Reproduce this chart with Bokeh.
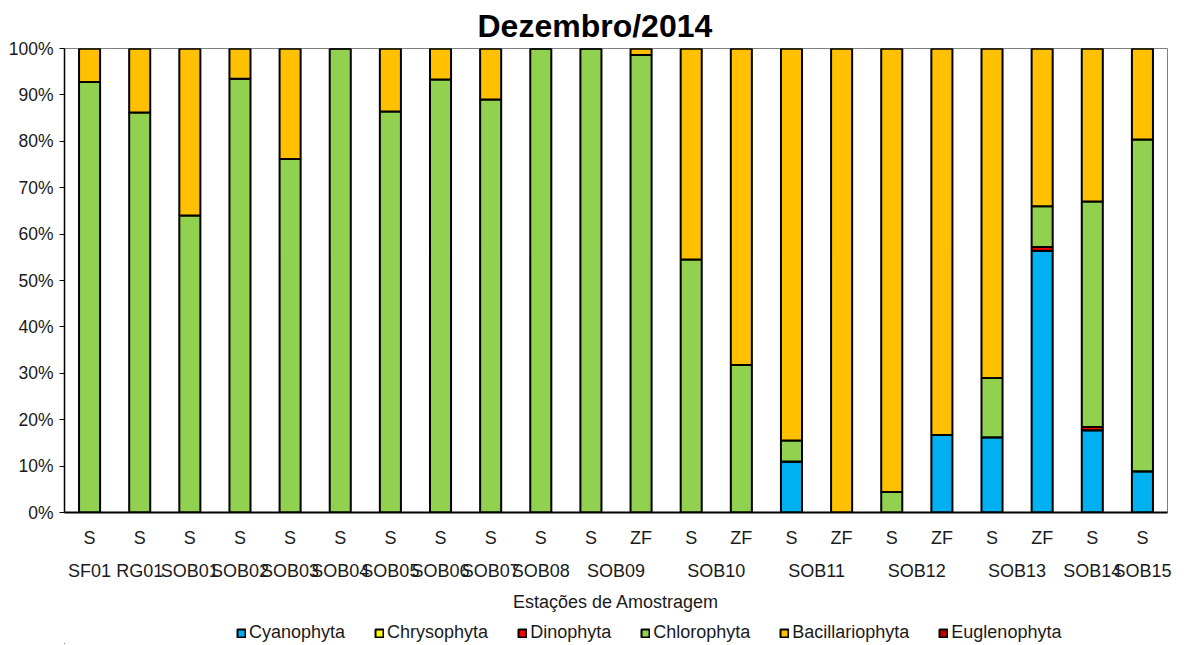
from bokeh.plotting import figure
from bokeh.layouts import column
from bokeh.models import (Range1d, FixedTicker, PrintfTickFormatter, Legend, LegendItem,
                          ColumnDataSource, LinearAxis, CustomJSTickFormatter)
from bokeh.embed import file_html
from bokeh.resources import INLINE

stations = ["SF01", "RG01", "SOB01", "SOB02", "SOB03", "SOB04", "SOB05", "SOB06", "SOB07", "SOB08",
            "SOB09", "SOB09", "SOB10", "SOB10", "SOB11", "SOB11", "SOB12", "SOB12", "SOB13", "SOB13",
            "SOB14", "SOB15"]
samples = ["S", "S", "S", "S", "S", "S", "S", "S", "S", "S",
           "S", "ZF", "S", "ZF", "S", "ZF", "S", "ZF", "S", "ZF",
           "S", "S"]

cyanophyta      = [0, 0, 0, 0, 0, 0, 0, 0, 0, 0, 0, 0, 0, 0, 11.0, 0, 0, 16.7, 16.2, 56.4, 17.7, 8.9]
chrysophyta     = [0, 0, 0, 0, 0, 0, 0, 0, 0, 0, 0, 0, 0, 0, 0, 0, 0, 0, 0, 0, 0, 0]
dinophyta       = [0, 0, 0, 0, 0, 0, 0, 0, 0, 0, 0, 0, 0, 0, 0, 0, 0, 0, 0, 0.8, 0.7, 0]
chlorophyta     = [92.8, 86.2, 64.0, 93.5, 76.2, 100, 86.4, 93.3, 89.0, 100, 100, 98.6, 54.5, 31.8,
                   4.5, 0, 4.4, 0, 12.8, 8.8, 48.6, 71.5]
bacillariophyta = [7.2, 13.8, 36.0, 6.5, 23.8, 0, 13.6, 6.7, 11.0, 0, 0, 1.4, 45.5, 68.2,
                   84.5, 100, 95.6, 83.3, 71.0, 34.0, 33.0, 19.6]
euglenophyta    = [0, 0, 0, 0, 0, 0, 0, 0, 0, 0, 0, 0, 0, 0, 0, 0, 0, 0, 0, 0, 0, 0]

series = ["Cyanophyta", "Chrysophyta", "Dinophyta", "Chlorophyta", "Bacillariophyta", "Euglenophyta"]
colors = ["#00B0F0", "#FFFF00", "#FF0000", "#92D050", "#FFC000", "#C00000"]
y_ticks = [0, 10, 20, 30, 40, 50, 60, 70, 80, 90, 100]

# category positions (slot centres) and station-group centres
n = len(stations)
xpos = [i + 0.5 for i in range(n)]
groups = []
for s in stations:
    if s not in groups:
        groups.append(s)
group_centers = []
for g in groups:
    idx = [xpos[i] for i in range(n) if stations[i] == g]
    group_centers.append(sum(idx) / len(idx))

source = ColumnDataSource(data=dict(
    x=xpos,
    Cyanophyta=cyanophyta, Chrysophyta=chrysophyta, Dinophyta=dinophyta,
    Chlorophyta=chlorophyta, Bacillariophyta=bacillariophyta, Euglenophyta=euglenophyta,
))

FONT = "Liberation Sans"
TXT = "#1a1a1a"

p = figure(
    frame_width=1103, frame_height=464, output_backend="svg", toolbar_location=None,
    x_range=Range1d(0, n), y_range=Range1d(0, 100),
    min_border_left=64, min_border_right=5, min_border_top=41, min_border_bottom=108,
    title="Dezembro/2014",
)

renderers = p.vbar_stack(series, x="x", width=0.42, source=source, color=colors,
                         line_color="black", line_width=2)

p.title.text_font = FONT
p.title.text_font_size = "32px"
p.title.text_font_style = "bold"
p.title.align = "left"
p.title.offset = 413
p.title.text_color = "black"

p.xgrid.visible = False
p.ygrid.visible = False
p.outline_line_color = "#7f7f7f"
p.outline_line_width = 1
p.background_fill_color = "white"
p.border_fill_color = "white"

yax = p.yaxis[0]
yax.ticker = FixedTicker(ticks=y_ticks)
yax.formatter = PrintfTickFormatter(format="%d%%")
yax.major_tick_out = 5
yax.major_tick_in = 0
yax.minor_tick_line_color = None
yax.axis_line_color = "black"
yax.axis_line_width = 1.5
yax.major_tick_line_color = "black"
yax.major_label_text_font = FONT
yax.major_label_text_font_size = "17.5px"
yax.major_label_text_color = TXT
yax.major_label_standoff = 6

# first x axis: S / ZF
xax = p.xaxis[0]
xax.ticker = FixedTicker(ticks=xpos)
xax.formatter = CustomJSTickFormatter(args=dict(labels=samples), code="return labels[index];")
xax.major_tick_line_color = None
xax.major_tick_out = 0
xax.major_tick_in = 0
xax.minor_tick_line_color = None
xax.minor_tick_out = 0
xax.axis_line_color = "black"
xax.axis_line_width = 2
xax.major_label_text_font = FONT
xax.major_label_text_font_size = "18px"
xax.major_label_text_color = TXT
xax.major_label_standoff = 15

# second x axis: station names + axis title
xax2 = LinearAxis(
    ticker=FixedTicker(ticks=group_centers),
    formatter=CustomJSTickFormatter(args=dict(labels=groups), code="return labels[index];"),
    axis_line_color=None, major_tick_line_color=None, minor_tick_line_color=None,
    major_tick_out=0, major_tick_in=0, minor_tick_out=0,
    major_label_text_font=FONT, major_label_text_font_size="18px", major_label_text_color=TXT,
    major_label_standoff=10,
    axis_label="Estações de Amostragem", axis_label_text_font=FONT,
    axis_label_text_font_size="18px", axis_label_text_font_style="normal",
    axis_label_text_color=TXT, axis_label_standoff=8,
)
p.add_layout(xax2, "below")

# legend strip: a small axis-less figure holding only the legend
lf = figure(
    width=1172, height=24, output_backend="svg", toolbar_location=None,
    x_range=Range1d(0, 1), y_range=Range1d(0, 1), min_border=0,
    x_axis_type=None, y_axis_type=None,
)
lf.xgrid.visible = False
lf.ygrid.visible = False
lf.outline_line_color = None
lf.background_fill_color = "white"
lf.border_fill_color = "white"
# swatch renderers (one off-range row each, so the legend glyphs get their styles)
swatches = [lf.vbar(x=[-5], top=[0], width=0.5, fill_color=c, line_color="black", line_width=2)
            for c in colors]
legend = Legend(
    items=[LegendItem(label=s, renderers=[r]) for s, r in zip(series, swatches)],
    orientation="horizontal", location=(172, 1),
    spacing=29, glyph_width=10, glyph_height=10, label_standoff=3,
    border_line_alpha=0, padding=0, margin=0,
    label_text_font=FONT, label_text_font_size="18px", label_text_color=TXT,
    background_fill_alpha=0,
)
lf.add_layout(legend, "center")

layout = column(p, lf, spacing=0)
open("out.html", "w").write(file_html(layout, INLINE))
